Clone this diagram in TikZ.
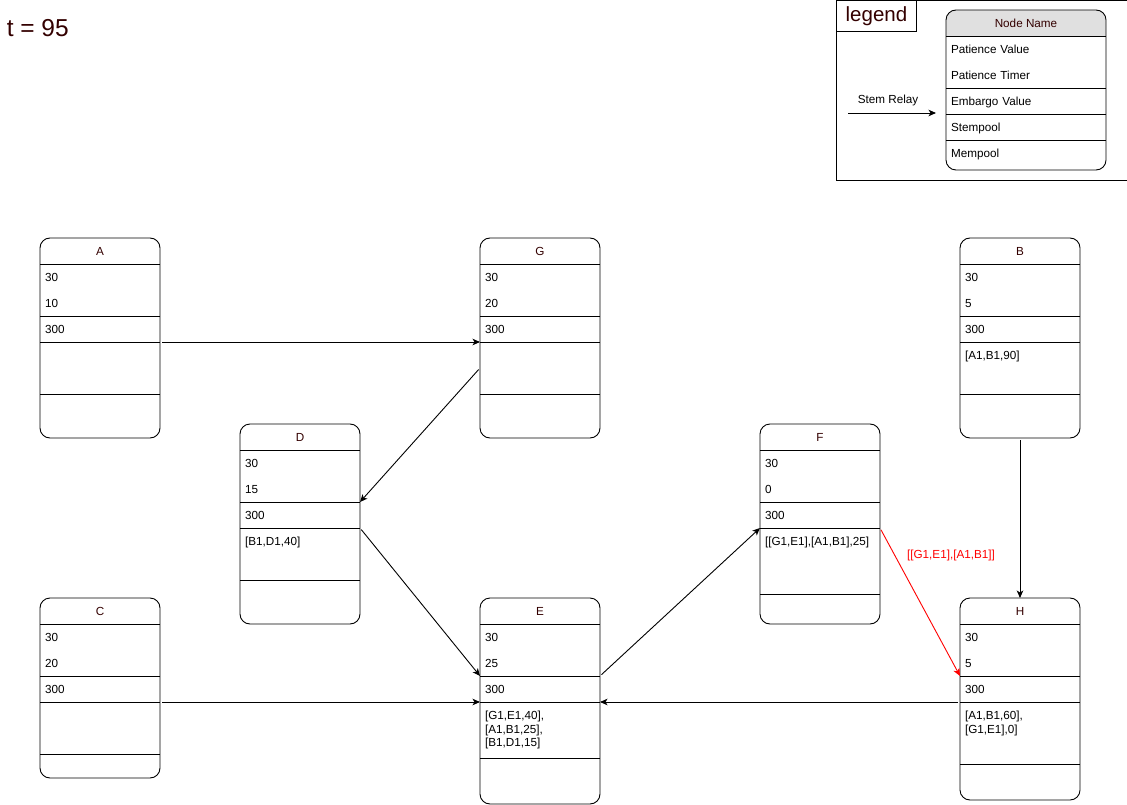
\documentclass[tikz,border=0pt]{standalone}
\usepackage{fontspec}
\setmainfont{Liberation Sans}
\usetikzlibrary{arrows.meta, positioning, fit, backgrounds}

\definecolor{hdrgray}{RGB}{224,224,224}
\definecolor{darktext}{RGB}{51,0,0}
\definecolor{relayred}{RGB}{255,0,0}

\def\boxw{120}
\def\embval{300}
\def\memtext{}

% node box: name, x, y (top left), title, patience value, patience timer, stempool, stempool height, mempool height
\newcommand{\dnode}[9]{%
  \node[namecell, anchor=north west] (#1-name) at (#2,#3) {#4};
  \node[rowcell, anchor=north west] (#1-pv) at (#1-name.south west) {#5};
  \node[rowcell, anchor=north west] (#1-pt) at (#1-pv.south west) {#6};
  \node[rowcell, anchor=north west] (#1-emb) at (#1-pt.south west) {\embval};
  \node[poolcell, anchor=north west] (#1-stem) at (#1-emb.south west)
    {\parbox[t][#8pt][t]{\dimexpr\boxw pt-10pt\relax}{\raggedright\rule{0pt}{17.5pt}#7}};
  \node[poolcell, anchor=north west] (#1-mem) at (#1-stem.south west)
    {\parbox[t][#9pt][t]{\dimexpr\boxw pt-10pt\relax}{\raggedright\rule{0pt}{17.5pt}\memtext}};
  \node[fit=(#1-name)(#1-mem), inner sep=0pt, outer sep=0pt] (#1) {};
  \begin{scope}[on background layer]
    \clip[rounded corners=10pt] (#1-name.north west) rectangle (#1-mem.south east);
    \fill[white] (#1-name.north west) rectangle (#1-mem.south east);
    \fill[hdrgray] (#1-name.north west) rectangle (#1-name.south east);
  \end{scope}
  \draw (#1-name.south west) -- (#1-name.south east);
  \draw (#1-pt.south west) -- (#1-pt.south east);
  \draw (#1-emb.south west) -- (#1-emb.south east);
  \draw (#1-stem.south west) -- (#1-stem.south east);
  \draw[rounded corners=10pt] (#1-name.north west) rectangle (#1-mem.south east);
}

\begin{document}
\begin{tikzpicture}[
    x=1pt, y=-1pt, line width=0.9pt,
    cellfont/.style={font=\fontsize{11.7}{13.5}\selectfont},
    namecell/.style={cellfont, minimum width=\boxw pt, minimum height=26pt, inner sep=0pt, outer sep=0pt, text=darktext},
    rowcell/.style={cellfont, minimum width=\boxw pt, minimum height=26pt, text width=\boxw pt-10pt,
        inner xsep=5pt, inner ysep=0pt, outer sep=0pt, align=left, text height=10pt, text depth=1pt},
    poolcell/.style={cellfont, inner xsep=5pt, inner ysep=0pt, outer sep=0pt},
    relay/.style={-{Stealth[length=7.5pt, width=6.5pt, inset=2pt]}, shorten <=2pt},
    >=Stealth
]
\useasboundingbox (0,0) rectangle (1127,805);

% time
\node[anchor=base west, font=\fontsize{24.5}{28}\selectfont, text=darktext] (time) at (3,37) {t = 95};

% legend
\node[draw, anchor=north west, minimum width=290.5pt, minimum height=180pt, inner sep=0pt] (legend-frame) at (836,0.5) {};
\node[draw, anchor=north west, minimum width=80pt, minimum height=31pt, inner sep=0pt,
    font=\fontsize{20.5}{24}\selectfont, text=darktext] (legend-title) at (836,0.5) {legend};
\begin{scope}
  \def\boxw{160}\def\embval{Embargo Value}\def\memtext{Mempool}
  \dnode{key}{946}{10}{Node Name}{Patience Value}{Patience Timer}{Stempool}{26}{30}
\end{scope}
\coordinate (relay-start) at (846,113);
\draw[relay, shorten >=10pt] (relay-start) -- (relay-start -| key-stem.west);
\node[cellfont, anchor=base] (relay-label) at (888,104) {Stem Relay};

% nodes
\dnode{A}{40}{238}{A}{30}{10}{}{52}{44}
\dnode{G}{480}{238}{G}{30}{20}{}{52}{44}
\dnode{B}{960}{238}{B}{30}{5}{[A1,B1,90]}{52}{44}
\dnode{D}{240}{424}{D}{30}{15}{[B1,D1,40]}{52}{44}
\dnode{F}{760}{424}{F}{30}{0}{[[G1,E1],[A1,B1],25]}{66}{30}
\dnode{C}{40}{598}{C}{30}{20}{}{52}{24}
\dnode{E}{480}{598}{E}{30}{25}{[G1,E1,40],\\{}[A1,B1,25],\\{}[B1,D1,15]}{56}{46}
\dnode{H}{960}{598}{H}{30}{5}{[A1,B1,60],\\{}[G1,E1],0]}{62}{36}

% stem relays
\draw[relay] (A-stem.north east) -- (G-stem.north west);
\draw[relay] (G-stem.west) -- (D-emb.north east);
\draw[relay] (D-stem.north east) -- (E-emb.north west);
\draw[relay] (C-stem.north east) -- (E-stem.north west);
\draw[relay] (E-emb.north east) -- (F-stem.north west);
\draw[relay, relayred] (F-stem.north east) -- (H-emb.north west);
\node[cellfont, text=relayred] (fh-label) at (951,555) {[[G1,E1],[A1,B1]]};
\draw[relay] (B.south) -- (H.north);
\draw[relay] (H-stem.north west) -- (E-stem.north east);

\end{tikzpicture}
\end{document}
